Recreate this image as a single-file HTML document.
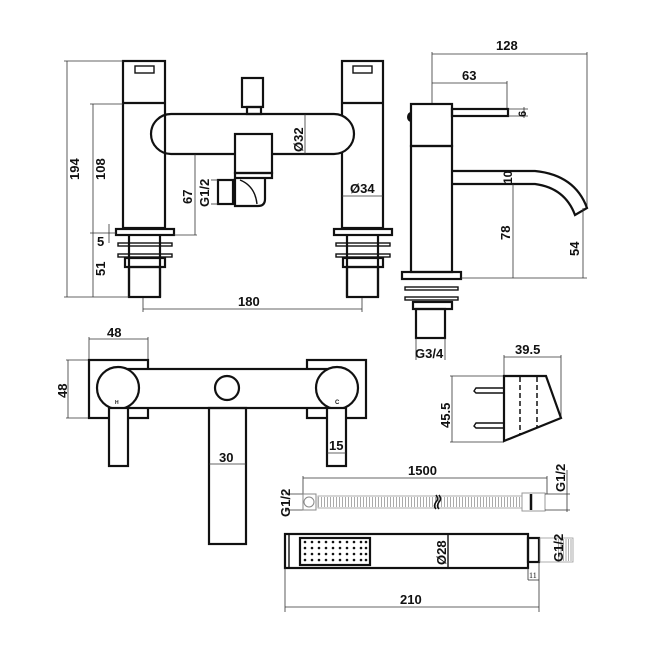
<!DOCTYPE html>
<html><head><style>
html,body{margin:0;padding:0;background:#fff;}
svg{display:block;}
text{font-family:"Liberation Sans",sans-serif;font-size:13px;fill:#111;font-weight:bold;}
.t{fill:none;stroke:#111;stroke-width:2.2;}
.d{fill:none;stroke:#333;stroke-width:0.8;}
.th{fill:none;stroke:#111;stroke-width:1.4;}
</style></head><body>
<svg width="650" height="650" viewBox="0 0 650 650" xmlns="http://www.w3.org/2000/svg">
<rect width="650" height="650" fill="#fff"/>

<!-- ===== Bath filler front ===== -->
<g>
<rect x="123" y="61" width="42" height="167" fill="#fff" stroke="#111" stroke-width="2.2"/>
<line class="t" x1="123" y1="103" x2="165" y2="103"/>
<rect class="th" x="135" y="66" width="19" height="7"/>
<rect class="t" x="116" y="229" width="58" height="6"/>
<line class="t" x1="129" y1="235" x2="129" y2="297"/>
<line class="t" x1="160" y1="235" x2="160" y2="297"/>
<rect class="th" x="118" y="243" width="54" height="3"/>
<rect class="th" x="118" y="254" width="54" height="3"/>
<rect class="t" x="125" y="258" width="40" height="9"/>
<rect class="t" x="129" y="267" width="31" height="30"/>
</g>
<g>
<rect x="342" y="61" width="41" height="167" fill="#fff" stroke="#111" stroke-width="2.2"/>
<line class="t" x1="342" y1="103" x2="383" y2="103"/>
<rect class="th" x="353" y="66" width="19" height="7"/>
<rect class="t" x="334" y="229" width="58" height="6"/>
<line class="t" x1="347" y1="235" x2="347" y2="297"/>
<line class="t" x1="378" y1="235" x2="378" y2="297"/>
<rect class="th" x="336" y="243" width="54" height="3"/>
<rect class="th" x="336" y="254" width="54" height="3"/>
<rect class="t" x="343" y="258" width="40" height="9"/>
<rect class="t" x="347" y="267" width="31" height="30"/>
</g>
<!-- body oval on top -->
<rect x="151" y="114" width="203" height="40" rx="20" fill="#fff" stroke="#111" stroke-width="2.2"/>
<line class="t" x1="165" y1="114" x2="165" y2="154" stroke="#fff"/>
<!-- diverter -->
<rect class="t" x="242" y="78" width="21" height="29"/>
<rect class="t" x="247" y="107" width="14" height="7"/>
<!-- spout -->
<rect x="235" y="134" width="37" height="39" fill="#fff" stroke="#111" stroke-width="2.2"/>
<rect class="t" x="235" y="173" width="37" height="5"/>
<path class="t" d="M235 178 L235 206 L258 206 Q265 206 265 199 L265 178"/>
<path class="th" d="M240 180 Q255 186 257 204"/>
<rect class="t" x="218" y="180" width="15" height="24"/>
<!-- dims -->
<line class="d" x1="67" y1="61" x2="67" y2="297"/>
<line class="d" x1="64" y1="61" x2="123" y2="61"/>
<line class="d" x1="64" y1="297" x2="129" y2="297"/>
<line class="d" x1="93" y1="104" x2="93" y2="297"/>
<line class="d" x1="90" y1="104" x2="123" y2="104"/>
<line class="d" x1="90" y1="233" x2="116" y2="233"/>
<line class="d" x1="109" y1="224" x2="109" y2="243"/>
<line class="d" x1="195" y1="154" x2="195" y2="235"/>
<line class="d" x1="174" y1="235" x2="197" y2="235"/>
<line class="d" x1="305" y1="114" x2="305" y2="154"/>
<line class="d" x1="342" y1="196" x2="383" y2="196"/>
<line class="d" x1="143" y1="309" x2="362" y2="309"/>
<line class="d" x1="143" y1="298" x2="143" y2="312"/>
<line class="d" x1="362" y1="298" x2="362" y2="312"/>
<line class="d" x1="218" y1="180" x2="211" y2="180"/>
<line class="d" x1="218" y1="204" x2="211" y2="204"/>
<text transform="translate(79,180) rotate(-90)">194</text>
<text transform="translate(105,180) rotate(-90)">108</text>
<text transform="translate(105,276) rotate(-90)">51</text>
<text x="97" y="246">5</text>
<text transform="translate(192,204) rotate(-90)">67</text>
<text transform="translate(209,207) rotate(-90)">G1/2</text>
<text transform="translate(303,152) rotate(-90)">Ø32</text>
<text x="350" y="193">Ø34</text>
<text x="238" y="306">180</text>

<!-- ===== Basin mixer side ===== -->
<line class="d" x1="432" y1="54" x2="587" y2="54"/>
<line class="d" x1="432" y1="52" x2="432" y2="104"/>
<line class="d" x1="587" y1="52" x2="587" y2="208"/>
<line class="d" x1="432" y1="83" x2="507" y2="83"/>
<line class="d" x1="507" y1="81" x2="507" y2="109"/>
<text x="496" y="50">128</text>
<text x="462" y="80">63</text>
<path d="M411 112 A4 5 0 0 0 411 122 Z" fill="#111"/>
<rect class="t" x="411" y="104" width="41" height="42"/>
<rect class="t" x="452" y="109" width="56" height="7"/>
<line class="d" x1="508" y1="109" x2="528" y2="109"/>
<line class="d" x1="508" y1="116" x2="528" y2="116"/>
<line class="d" x1="524" y1="107" x2="524" y2="118"/>
<text transform="translate(526,117) rotate(-90)" style="font-size:11px">6</text>
<rect class="t" x="411" y="146" width="41" height="126"/>
<path class="t" d="M452 171 L535 171 Q575 175 587 208 L575 215 Q565 188 535 184 L452 184"/>
<rect class="t" x="402" y="272" width="59" height="7"/>
<rect class="th" x="405" y="287" width="53" height="3"/>
<rect class="th" x="405" y="297" width="53" height="3"/>
<rect class="t" x="413" y="302" width="39" height="7"/>
<rect class="t" x="416" y="309" width="29" height="29"/>
<line class="d" x1="461" y1="278" x2="587" y2="278"/>
<line class="d" x1="513" y1="184" x2="513" y2="278"/>
<line class="d" x1="583" y1="208" x2="583" y2="278"/>
<text transform="translate(512,184) rotate(-90)" style="font-size:12px">10</text>
<text transform="translate(510,240) rotate(-90)">78</text>
<text transform="translate(579,256) rotate(-90)">54</text>
<line class="d" x1="416" y1="338" x2="416" y2="360"/>
<line class="d" x1="445" y1="338" x2="445" y2="360"/>
<text x="415" y="358">G3/4</text>

<!-- ===== Wall mixer top ===== -->
<line class="d" x1="89" y1="339" x2="148" y2="339"/>
<line class="d" x1="89" y1="337" x2="89" y2="360"/>
<line class="d" x1="148" y1="337" x2="148" y2="360"/>
<text x="107" y="337">48</text>
<line class="d" x1="68" y1="360" x2="68" y2="418"/>
<line class="d" x1="66" y1="360" x2="89" y2="360"/>
<line class="d" x1="66" y1="418" x2="89" y2="418"/>
<text transform="translate(67,398) rotate(-90)">48</text>
<rect class="t" x="89" y="360" width="59" height="58"/>
<rect class="t" x="307" y="360" width="59" height="58"/>
<rect x="120" y="369" width="218" height="39" fill="#fff" stroke="#111" stroke-width="2.2"/>
<circle cx="118" cy="388" r="21" fill="#fff" stroke="#111" stroke-width="2.2"/>
<circle cx="337" cy="388" r="21" fill="#fff" stroke="#111" stroke-width="2.2"/>
<circle class="t" cx="227" cy="388" r="12"/>
<rect x="109" y="408" width="19" height="58" fill="#fff" stroke="#111" stroke-width="2.2"/>
<rect x="327" y="408" width="19" height="58" fill="#fff" stroke="#111" stroke-width="2.2"/>
<text x="115" y="404" style="font-size:5px">H</text>
<text x="335" y="404" style="font-size:6px">C</text>
<line class="d" x1="327" y1="453" x2="346" y2="453"/>
<text x="329" y="450">15</text>
<rect class="t" x="209" y="408" width="37" height="136"/>
<line class="d" x1="209" y1="464" x2="246" y2="464"/>
<text x="219" y="462">30</text>

<!-- ===== Holder ===== -->
<line class="d" x1="504" y1="357" x2="561" y2="357"/>
<line class="d" x1="504" y1="355" x2="504" y2="376"/>
<line class="d" x1="561" y1="355" x2="561" y2="418"/>
<text x="515" y="354">39.5</text>
<line class="d" x1="452" y1="376" x2="452" y2="442"/>
<line class="d" x1="450" y1="376" x2="504" y2="376"/>
<line class="d" x1="450" y1="442" x2="504" y2="442"/>
<text transform="translate(450,428) rotate(-90)">45.5</text>
<polygon class="t" points="504,376 546,376 561,418 504,441"/>
<line x1="520" y1="377" x2="520" y2="434" stroke="#111" stroke-width="1.5" stroke-dasharray="5,3"/>
<line x1="537" y1="377" x2="537" y2="428" stroke="#111" stroke-width="1.5" stroke-dasharray="5,3"/>
<path class="th" d="M504 388 L476 388 L474 391 L476 393 L504 393"/>
<path class="th" d="M504 423 L476 423 L474 426 L476 428 L504 428"/>

<!-- ===== Hose ===== -->
<line class="d" x1="303" y1="478" x2="547" y2="478"/>
<line class="d" x1="303" y1="476" x2="303" y2="494"/>
<line class="d" x1="547" y1="476" x2="547" y2="494"/>
<text x="408" y="475">1500</text>
<line class="d" x1="285" y1="494" x2="303" y2="494"/>
<line class="d" x1="285" y1="510" x2="303" y2="510"/>
<text transform="translate(290,517) rotate(-90)">G1/2</text>
<rect x="303" y="494" width="13" height="16" fill="none" stroke="#888" stroke-width="1"/>
<circle cx="309" cy="502" r="5" fill="none" stroke="#888" stroke-width="1"/>
<rect x="318" y="496" width="204" height="12" fill="none" stroke="#999" stroke-width="0.8"/>
<line x1="318" y1="502" x2="522" y2="502" stroke="#aaa" stroke-width="10" stroke-dasharray="1,2"/>
<path d="M436 495 Q439 499 436 502 Q433 506 436 509 M439 495 Q442 499 439 502 Q436 506 439 509" fill="none" stroke="#111" stroke-width="1.5"/>
<rect x="522" y="493" width="23" height="18" fill="#fff" stroke="#999" stroke-width="1"/>
<line x1="531" y1="494" x2="531" y2="510" stroke="#111" stroke-width="2.5"/>
<line class="d" x1="545" y1="494" x2="570" y2="494"/>
<line class="d" x1="545" y1="510" x2="570" y2="510"/>
<line class="d" x1="567" y1="470" x2="567" y2="512"/>
<text transform="translate(565,492) rotate(-90)">G1/2</text>

<!-- ===== Handshower ===== -->
<rect class="t" x="285" y="534" width="243" height="34"/>
<line class="th" x1="289" y1="534" x2="289" y2="568"/>
<rect class="t" x="300" y="538" width="70" height="27"/>
<g fill="#111">
<g id="row">
<circle cx="305" cy="542" r="1.3"/><circle cx="312" cy="542" r="1.3"/><circle cx="319" cy="542" r="1.3"/><circle cx="326" cy="542" r="1.3"/><circle cx="333" cy="542" r="1.3"/><circle cx="340" cy="542" r="1.3"/><circle cx="347" cy="542" r="1.3"/><circle cx="354" cy="542" r="1.3"/><circle cx="361" cy="542" r="1.3"/><circle cx="366" cy="542" r="1.3"/>
</g>
<use href="#row" y="6"/><use href="#row" y="12"/><use href="#row" y="18"/>
</g>
<line class="th" x1="448" y1="534" x2="448" y2="568"/>
<text transform="translate(446,565) rotate(-90)">Ø28</text>
<rect class="t" x="528" y="538" width="11" height="24"/>
<rect x="540" y="538" width="33" height="24" fill="none" stroke="#999" stroke-width="0.8"/>
<line x1="558" y1="550" x2="573" y2="550" stroke="#aaa" stroke-width="22" stroke-dasharray="1,1.5"/>
<text transform="translate(563,562) rotate(-90)">G1/2</text>
<line class="d" x1="528" y1="568" x2="528" y2="580"/>
<line class="d" x1="539" y1="562" x2="539" y2="612"/>
<line class="d" x1="528" y1="580" x2="539" y2="580"/>
<text x="529" y="578" style="font-size:8px;font-family:'Liberation Serif',serif;font-weight:normal">11</text>
<line class="d" x1="285" y1="568" x2="285" y2="612"/>
<line class="d" x1="285" y1="607" x2="539" y2="607"/>
<text x="400" y="604">210</text>
</svg>
</body></html>
